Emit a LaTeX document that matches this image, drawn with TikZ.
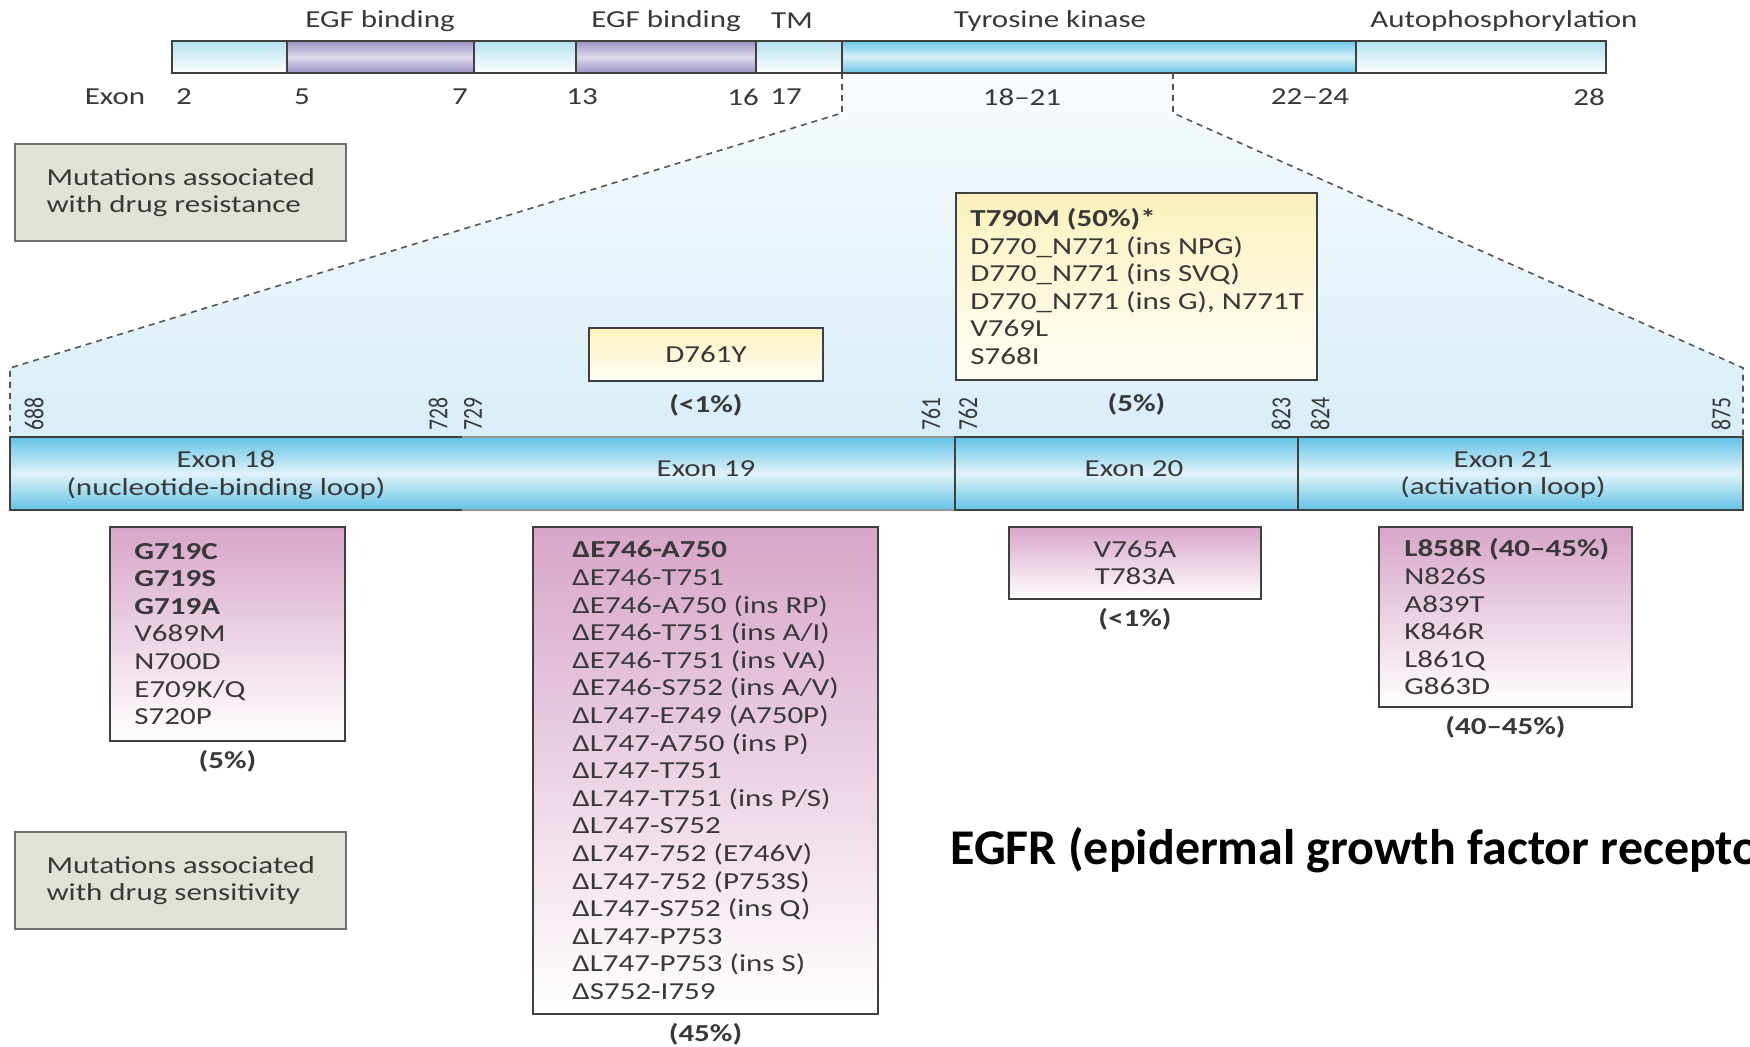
\documentclass[tikz,border=0pt]{standalone}
\usepackage{fontspec}
\setmainfont{Carlito}[FakeStretch=1.27]
\newfontfamily\egplain{Carlito}
\usepackage{graphicx}
\usepackage{tikz}
\usetikzlibrary{positioning}
\definecolor{egink}     {HTML}{383838}
\definecolor{egline}    {HTML}{404040}
\definecolor{eglightA}  {HTML}{B4E0EF}
\definecolor{egpurpleA} {HTML}{9D93C4}
\definecolor{egpurpleB} {HTML}{DCD8EC}
\definecolor{egkinA}    {HTML}{6CC6E6}
\definecolor{egkinB}    {HTML}{D5EEF8}
\definecolor{egexonA}   {HTML}{62C2E5}
\definecolor{egexonB}   {HTML}{E0F2FA}
\definecolor{egpink}    {HTML}{D8A5C8}
\definecolor{egyellow}  {HTML}{FBF1BD}
\definecolor{egyellowB} {HTML}{FFFEF6}
\definecolor{eggray}    {HTML}{E1E1D8}
\definecolor{eggrayline}{HTML}{707070}
\definecolor{egfadeA}   {HTML}{F7FBFD}
\definecolor{egfadeB}   {HTML}{D9EDF8}
\definecolor{egdashc}   {HTML}{555555}
\newcommand\egtall[1]{\scalebox{1}[1.27]{#1}}
\tikzset{
  egtext/.style={font=\fontsize{12.2}{13.8}\selectfont, text=egink, inner sep=1pt},
  egbar/.style={draw=egline, line width=1.2pt},
  eglight/.style={egbar, top color=eglightA, bottom color=white},
  egegf/.style={egbar, top color=egpurpleA, bottom color=egpurpleA, middle color=egpurpleB},
  egkinase/.style={egbar, top color=egkinA, bottom color=egkinA, middle color=egkinB},
  egedge/.style={draw=egline, line width=1.2pt},
  egsoft/.style={draw=egline!55, line width=1pt},
  egdash/.style={draw=egdashc, line width=0.8pt, dash pattern=on 3pt off 2.5pt},
  eglegend/.style={egtext, align=left, draw=eggrayline, fill=eggray, line width=1.2pt,
                   minimum width=165.5pt, minimum height=48.5pt, anchor=north west},
  egmutbox/.style={draw=egline, line width=1pt, top color=egpink, bottom color=white,
                   inner sep=0pt, anchor=north west},
  egresbox/.style={draw=egline, line width=1pt, top color=egyellow, bottom color=egyellowB,
                   inner sep=0pt, anchor=north west},
  eglines/.style={egtext, align=left, anchor=west},
  egpct/.style={egtext, font=\fontsize{12.2}{13.8}\selectfont\bfseries},
  egres/.style={font=\egplain\fontsize{10.8}{12}\selectfont, text=egink, rotate=90,
                anchor=west, inner sep=0pt},
  egtitle/.style={font=\egplain\bfseries\fontsize{25}{30}\selectfont, anchor=west, inner sep=0pt},
}

\begin{document}
\begin{tikzpicture}[x=0.5pt,y=-0.5pt]
  \useasboundingbox (0,0) rectangle (1750,1047);
  \clip (0,0) rectangle (1750,1047);

  % zoom fan below the kinase domain
  \shade[top color=egfadeA, bottom color=egfadeB]
    (842,73) -- (842,113) -- (10,368) -- (10,437) -- (1743,437) -- (1743,368)
    -- (1173,113) -- (1173,73) -- cycle;
  \draw[egdash] (842,73) -- (842,113) -- (10,368) -- (10,437);
  \draw[egdash] (1173,73) -- (1173,113) -- (1743,368) -- (1743,437);

  % domain bar
  \foreach \a/\b/\s in {172/287/eglight, 287/474/egegf, 474/576/eglight, 576/756/egegf,
                        756/842/eglight, 842/1356/egkinase, 1356/1606/eglight}
    \draw[\s] (\a,41) rectangle (\b,73);
  \node[egtext] (egf1) at (380,21)  {EGF binding};
  \node[egtext] (egf2) at (666,21)  {EGF binding};
  \node[egtext] (tm)   at (792,21)  {TM};
  \node[egtext] (tk)   at (1050,21) {Tyrosine kinase};
  \node[egtext] (auto) at (1504,21) {Autophosphorylation};
  \node[egtext] (exon) at (115,97)  {Exon};
  \foreach \lab/\xpos [count=\i] in {2/184, 5/302, 7/460, 13/582, 16/743, 17/786,
                                     18--21/1022, 22--24/1310, 28/1589}
    \node[egtext] (exnum\i) at (\xpos,97) {\lab};

  % exon 18--21 bar
  \shade[top color=egexonA, bottom color=egexonA, middle color=egexonB]
    (10,437) rectangle (1743,510);
  \draw[egedge] (462,437) -- (10,437) -- (10,510) -- (462,510);
  \draw[egsoft] (462,437) -- (955,437) (462,510) -- (955,510);
  \draw[egedge] (955,437) rectangle (1743,510);
  \draw[egedge] (1298,437) -- (1298,510);
  \node[egtext, align=center] (ex18) at (226,475)  {Exon 18\\(nucleotide-binding loop)};
  \node[egtext]               (ex19) at (706,469)  {Exon 19};
  \node[egtext]               (ex20) at (1134,469) {Exon 20};
  \node[egtext, align=center] (ex21) at (1503,475) {Exon 21\\(activation loop)};
  \foreach \num/\xpos in {688/34, 728/438, 729/473, 761/931, 762/968, 823/1281,
                          824/1320, 875/1721}
    \node[egres] (res\num) at (\xpos,431) {\egtall{\num}};

  % legend
  \node[eglegend] (resist) at (14,143) {Mutations associated\\with drug resistance};
  \node[eglegend] (sens)   at (14,831) {Mutations associated\\with drug sensitivity};

  % resistance mutations
  \node[egresbox, minimum width=117pt, minimum height=26.5pt] (d761) at (588,327) {};
  \node[egtext] (d761txt) at (d761.center) {D761Y};
  \node[egpct, below=5pt of d761] (d761pct) {(<1\%)};
  \node[egresbox, minimum width=180.5pt, minimum height=93.5pt] (t790) at (955,192) {};
  \node[eglines] (t790txt) at ([xshift=6.5pt]t790.west)
    {\textbf{T790M (50\%)*}\\D770\_N771 (ins NPG)\\D770\_N771 (ins SVQ)\\
     D770\_N771 (ins G), N771T\\V769L\\S768I};
  \node[egpct, below=5pt of t790] (t790pct) {(5\%)};

  % sensitivity mutations
  \node[egmutbox, minimum width=117.5pt, minimum height=107pt] (mut18) at (109,526) {};
  \node[eglines] (mut18txt) at ([xshift=11.5pt]mut18.west)
    {\textbf{G719C}\\\textbf{G719S}\\\textbf{G719A}\\V689M\\N700D\\E709K/Q\\S720P};
  \node[egpct, below=3pt of mut18] (mut18pct) {(5\%)};

  \node[egmutbox, minimum width=172.5pt, minimum height=243.5pt] (mut19) at (532,526) {};
  \node[eglines] (mut19txt) at ([xshift=19pt]mut19.west)
    {\textbf{ΔE746-A750}\\ΔE746-T751\\ΔE746-A750 (ins RP)\\ΔE746-T751 (ins A/I)\\
     ΔE746-T751 (ins VA)\\ΔE746-S752 (ins A/V)\\ΔL747-E749 (A750P)\\ΔL747-A750 (ins P)\\
     ΔL747-T751\\ΔL747-T751 (ins P/S)\\ΔL747-S752\\ΔL747-752 (E746V)\\ΔL747-752 (P753S)\\
     ΔL747-S752 (ins Q)\\ΔL747-P753\\ΔL747-P753 (ins S)\\ΔS752-I759};
  \node[egpct, below=3pt of mut19] (mut19pct) {(45\%)};

  \node[egmutbox, minimum width=126pt, minimum height=36pt] (mut20) at (1008,526) {};
  \node[egtext, align=center] (mut20txt) at (mut20.center) {V765A\\T783A};
  \node[egpct, below=3pt of mut20] (mut20pct) {(<1\%)};

  \node[egmutbox, minimum width=126.5pt, minimum height=90pt] (mut21) at (1378,526) {};
  \node[eglines] (mut21txt) at ([xshift=12pt]mut21.west)
    {\textbf{L858R (40–45\%)}\\N826S\\A839T\\K846R\\L861Q\\G863D};
  \node[egpct, below=3pt of mut21] (mut21pct) {(40–45\%)};

  \node[egtitle] (title) at (950,850) {EGFR (epidermal growth factor recepto};
\end{tikzpicture}
\end{document}
